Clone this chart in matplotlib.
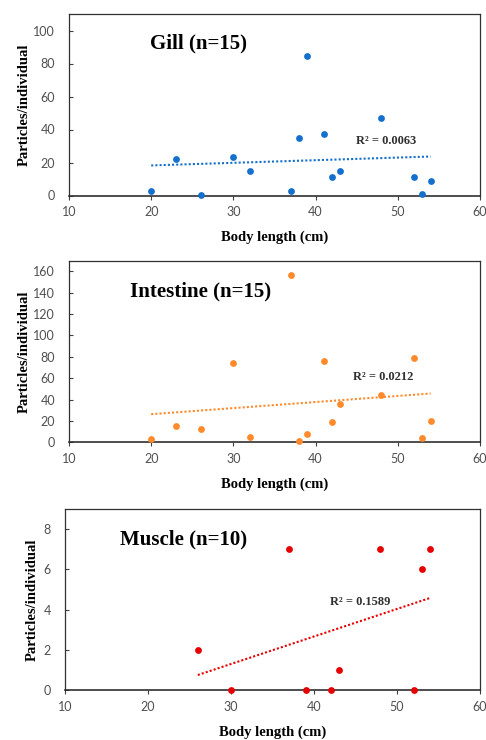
import numpy as np
import matplotlib
matplotlib.use("Agg")
import matplotlib.pyplot as plt

# ---- data ----
gill_x = [20, 23, 26, 30, 32, 37, 38, 39, 41, 42, 43, 48, 52, 53, 54]
gill_y = [3, 22, 0.5, 23.5, 15, 3, 35, 84.5, 37, 11, 15, 47, 11, 1, 9]

intestine_x = [20, 23, 26, 30, 32, 37, 38, 39, 41, 42, 43, 48, 52, 53, 54]
intestine_y = [3, 15, 12, 74, 5, 157, 1, 8, 76, 19, 36, 44, 79, 4, 20]

muscle_x = [26, 30, 37, 39, 42, 43, 48, 52, 53, 54]
muscle_y = [2, 0, 7, 0, 0, 1, 7, 0, 6, 7]

titles = ["Gill (n=15)", "Intestine (n=15)", "Muscle (n=10)"]
r2_labels = ["R\u00b2 = 0.0063", "R\u00b2 = 0.0212", "R\u00b2 = 0.1589"]
colors = ["#1470CC", "#FF8A2B", "#E60000"]
ylims = [(0, 110), (0, 170), (0, 9)]
yticks = [np.arange(0, 101, 20), np.arange(0, 161, 20), np.arange(0, 9, 2)]
xticks = [10, 20, 30, 40, 50, 60]

serif = ["Liberation Serif", "DejaVu Serif"]

fig = plt.figure(figsize=(4.86, 7.40), dpi=100)

rects = [
    [69/486, 1 - 195.5/740, 411/486, 181.5/740],
    [69/486, 1 - 442.3/740, 411/486, 181.6/740],
    [65/486, 1 - 690.3/740, 415/486, 181.3/740],
]
title_pos = [(0.197, 0.84), (0.148, 0.83), (0.133, 0.833)]
r2_pos = [(0.698, 0.30), (0.691, 0.361), (0.639, 0.489)]
ylabel_x = [-0.092, -0.092, -0.063]

datasets = [(gill_x, gill_y), (intestine_x, intestine_y), (muscle_x, muscle_y)]

for i, (xs, ys) in enumerate(datasets):
    ax = fig.add_axes(rects[i])
    xs = np.array(xs, dtype=float)
    ys = np.array(ys, dtype=float)
    ax.scatter(xs, ys, s=24, color=colors[i], zorder=3, clip_on=False, linewidths=0)
    m, b = np.polyfit(xs, ys, 1)
    xl = np.array([xs.min(), xs.max()])
    ax.plot(xl, m * xl + b, linestyle=(0, (1, 1.0)), color=colors[i], lw=1.5, zorder=2)
    ax.set_xlim(10, 60)
    ax.set_ylim(*ylims[i])
    ax.set_xticks(xticks)
    ax.set_yticks(yticks[i])
    ax.tick_params(axis="x", direction="out", length=3, width=0.8, colors="#404040",
                   labelsize=9, pad=4.5, labelcolor="#505050")
    ax.tick_params(axis="y", direction="in", length=3, width=0.8, colors="#404040",
                   labelsize=9, pad=10, labelcolor="#505050")
    for sp in ax.spines.values():
        sp.set_color("#303030")
        sp.set_linewidth(0.9)
    ax.spines["bottom"].set_linewidth(1.2)
    for lab in ax.get_xticklabels() + ax.get_yticklabels():
        lab.set_family(["Lato", "DejaVu Sans"])
    ax.set_xlabel("Body length (cm)", family=serif, fontweight="bold", fontsize=10.5,
                  labelpad=9)
    ax.set_ylabel("Particles/individual", family=serif, fontweight="bold", fontsize=10.5)
    ax.yaxis.set_label_coords(ylabel_x[i], 0.5)
    ax.text(title_pos[i][0], title_pos[i][1], titles[i], transform=ax.transAxes,
            family=serif, fontweight="bold", fontsize=15, va="center", ha="left")
    ax.text(r2_pos[i][0], r2_pos[i][1], r2_labels[i], transform=ax.transAxes,
            family=serif, fontweight="bold", fontsize=9, va="center", ha="left",
            color="#303030")

fig.savefig("out.png", dpi=100)
